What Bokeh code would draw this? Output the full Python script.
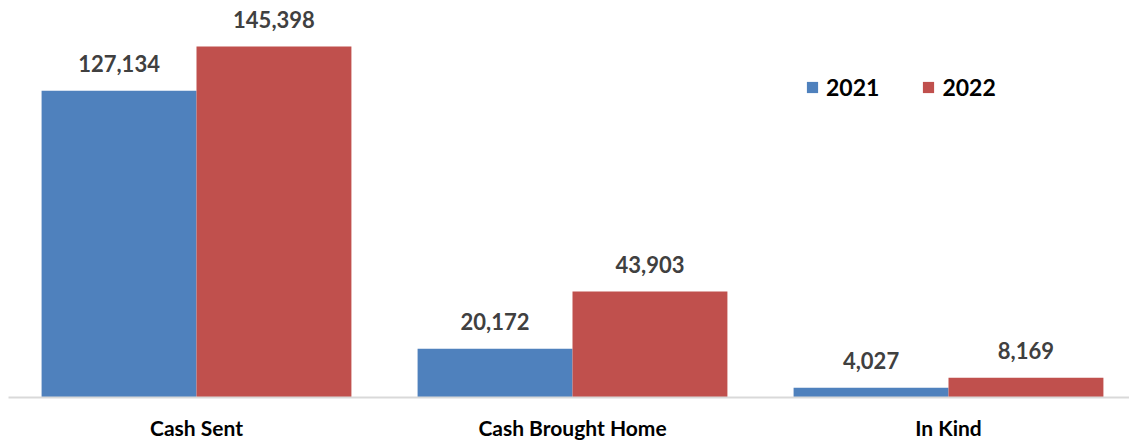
from bokeh.plotting import figure
from bokeh.models import ColumnDataSource, Range1d, FixedTicker, Legend, LegendItem
from bokeh.transform import dodge
from bokeh.core.properties import value
from bokeh.embed import file_html
from bokeh.resources import INLINE

categories = ["Cash Sent", "Cash Brought Home", "In Kind"]
years = ["2021", "2022"]
values_2021 = [127134, 20172, 4027]
values_2022 = [145398, 43903, 8169]
colors = ["#4f81bd", "#c0504d"]

FONT = "Lato"
xs = list(range(len(categories)))
src = ColumnDataSource(dict(
    x=xs,
    v2021=values_2021,
    v2022=values_2022,
    l2021=[f"{v:,}" for v in values_2021],
    l2022=[f"{v:,}" for v in values_2022],
))

W, H = 1129, 442
LEFT = 8
p = figure(width=W, height=H, output_backend="svg", toolbar_location=None,
           x_range=Range1d(-0.5, -0.5 + (W - LEFT) / 376.0), y_range=Range1d(0, 164500),
           min_border_left=LEFT, min_border_right=0, min_border_top=0, min_border_bottom=44)
p.outline_line_color = None
p.xgrid.visible = False
p.ygrid.visible = False
p.yaxis.visible = False

off = 0.206
bw = 0.412
r1 = p.vbar(x=dodge("x", -off, range=p.x_range), top="v2021", width=bw, source=src,
            fill_color=colors[0], line_color=None)
r2 = p.vbar(x=dodge("x", off, range=p.x_range), top="v2022", width=bw, source=src,
            fill_color=colors[1], line_color=None)

for col, o in (("2021", -off), ("2022", off)):
    p.text(x=dodge("x", o, range=p.x_range), y="v" + col, text="l" + col, source=src,
           text_align="center", text_baseline="alphabetic", y_offset=-27,
           text_font=value(FONT), text_font_style="bold", text_font_size="22px",
           text_color="#404040")

ax = p.xaxis[0]
ax.ticker = FixedTicker(ticks=xs)
ax.major_label_overrides = {i: c for i, c in zip(xs, categories)}
ax.major_tick_line_color = None
ax.minor_tick_line_color = None
ax.axis_line_color = "#d9d9d9"
ax.axis_line_width = 2
ax.major_label_text_font = FONT
ax.major_label_text_font_style = "bold"
ax.major_label_text_font_size = "21px"
ax.major_label_text_color = "#000000"
ax.major_label_standoff = 11

legend = Legend(items=[LegendItem(label=years[0], renderers=[r1]),
                       LegendItem(label=years[1], renderers=[r2])],
                orientation="horizontal", location=(797, 296),
                glyph_width=14, glyph_height=14, label_height=14,
                label_text_font=FONT, label_text_font_style="bold",
                label_text_font_size="23px", label_text_color="#000000",
                label_standoff=7, spacing=42, padding=4, margin=0,
                border_line_color=None, background_fill_alpha=0)
p.add_layout(legend, "center")

open("out.html", "w").write(file_html(p, INLINE))
